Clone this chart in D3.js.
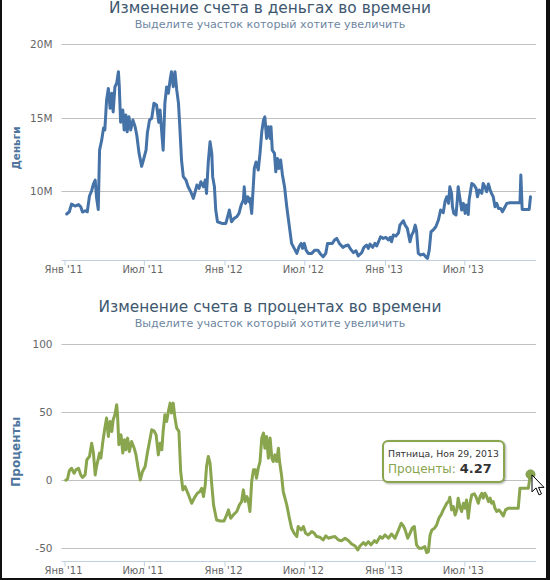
<!DOCTYPE html>
<html><head><meta charset="utf-8">
<script src="https://cdn.jsdelivr.net/npm/d3@7"></script>
<style>html,body{margin:0;padding:0;background:#fff;} svg{display:block;font-family:"DejaVu Sans",Verdana,sans-serif;}</style>
</head><body><svg id="c" width="550" height="580"></svg>
<script>
// ---------- DATA ----------
const startDate = new Date(2011, 0, 1); // day offsets below are counted from this date

const moneyDays = [5,11,16,24,32,37,41,47,52,57,62,66,70,73,77,80,85,89,92,96,100,104,108,111,115,119,123,125,128,133,136,140,143,147,151,156,161,165,170,176,180,186,189,194,199,204,210,215,218,222,225,229,233,237,241,244,248,252,256,260,263,267,271,277,282,288,294,298,
302,307,311,317,321,324,328,332,336,338,342,345,349,359,368,372,376,381,387,393,398,403,408,410,413,418,421,423,427,431,433,437,442,446,450,454,457,461,465,469,471,474,479,482,486,489,493,497,502,507,512,518,524,530,535,540,543,547,551,556,564,571,578,583,590,596,600,606,611,616,
621,627,635,640,647,653,659,665,670,678,683,689,693,697,703,708,712,718,721,727,733,739,743,746,750,756,762,765,773,777,782,788,792,796,800,803,807,812,819,825,828,832,836,841,847,853,858,864,868,872,876,879,883,885,888,893,896,898,902,906,910,914,917,921,923,929,934,939,942,946,952,955,959,963,967,971,974,978,982,986,990,995,999,1005,1009,1016,1039,1041,1044,1060,1063];
const moneyValues = [8.46,8.61,9.13,9.0,9.1,8.95,8.59,8.68,8.61,9.68,10.04,10.5,10.77,9.6,8.77,12.8,13.5,14.3,14.17,16.2,17.0,15.65,16.67,15.4,17.1,17.35,18.14,17.12,14.7,15.53,14.17,15.19,14.05,15.07,14.17,14.85,14.4,13.8,12.6,11.7,12.13,12.8,13.96,14.85,14.97,15.99,15.87,14.7,15.53,13.94,12.8,15.99,17.1,16.67,17.6,18.14,17.12,18.14,16.9,15.99,14.4,12.1,11.0,10.77,10.31,9.97,9.52,9.97,
10.43,10.2,10.65,10.31,10.77,9.86,12.0,13.37,12.58,11.0,10.31,8.73,7.93,7.82,7.82,8.27,8.73,7.93,8.16,8.27,8.5,9.07,9.41,10.31,9.18,9.63,9.29,9.52,8.5,10.54,11.56,12.0,11.45,12.58,14.05,14.85,15.07,13.6,14.4,13.6,14.4,12.8,12.58,11.33,12.24,11.56,12.13,11.15,10.3,8.95,7.82,6.46,6.12,5.78,6.23,6.46,6.12,6.46,6.0,5.78,5.78,6.0,6.0,5.78,5.55,5.78,6.46,6.46,6.46,6.69,
6.8,6.46,6.19,6.28,6.35,6.05,5.83,5.96,5.6,5.83,6.19,6.35,6.12,6.41,6.19,6.46,6.28,6.69,6.91,6.8,6.87,6.69,6.87,6.57,7.03,6.96,7.18,7.7,8.0,7.7,7.48,6.57,7.03,7.25,7.7,7.32,5.78,5.67,5.73,5.51,5.44,6.0,7.25,7.37,7.59,8.05,8.73,8.55,9.3,9.63,9.18,10.31,9.86,8.95,8.5,8.39,9.41,10.31,9.52,8.73,9.18,8.5,9.07,8.43,9.41,10.54,10.43,10.2,9.63,10.09,9.86,10.54,10.31,9.97,10.5,10.09,9.86,9.63,8.95,9.18,8.84,8.84,8.61,8.95,9.18,9.22,9.22,11.11,8.77,8.77,9.63];

const percentDays = [3,7,11,16,22,26,32,37,41,47,51,57,62,66,70,73,80,83,87,92,96,100,104,108,111,115,119,121,124,129,133,137,140,144,148,153,159,163,168,173,178,184,189,194,199,204,209,214,218,222,225,229,233,237,241,244,248,252,256,261,265,270,275,283,290,298,303,309,313,317,321,324,328,332,336,340,343,347,355,364,370,374,379,385,393,399,404,408,412,416,419,423,427,431,435,438,442,446,450,454,457,461,465,469,473,476,480,484,488,490,495,499,507,513,518,524,530,
533,540,545,550,556,564,570,575,583,590,596,602,609,617,625,632,640,648,655,663,669,674,682,687,693,699,707,712,720,725,731,739,746,754,762,768,773,777,783,788,793,798,803,809,815,822,826,830,834,838,844,849,854,859,864,868,872,876,879,883,887,891,895,898,902,906,910,914,917,921,925,929,935,940,944,948,952,955,959,963,967,971,974,978,982,986,991,996,1001,1006,1012,1035,1039,1058,1063];
const percentValues = [0,1,6.9,8.8,5.1,7.6,8.8,3.9,2.0,3.9,15,17.4,27.2,19.9,3.9,10,19.9,16.2,27.2,38.2,45.6,32.1,43.1,35.8,44.4,48,55.4,48,26,33.3,19.9,29.7,22.3,30.9,21.1,28.4,23.5,18.6,8.8,0.2,6.4,10,19.9,28.4,37,36.3,33.3,18.6,27.2,22.3,35.8,48,43.1,50.5,56.6,49.3,56.6,45.6,38.2,35.8,6.4,-7.1,-4.7,-10.8,-16.9,-12,-9.6,-8.3,-5.9,-12,-3.4,10,17.4,12.5,-3.4,-18.1,-23,-29.2,-29.9,-29.9,-25.5,-21.8,-27.9,-25.5,-23,-18.1,-15.7,-7.1,-15.7,-12,-14.5,-23,-1,7.6,7.6,1.5,8.8,13.7,30.9,34.6,23.5,32.1,16.2,30.9,16.2,13.7,18.6,13.7,23.5,15,3.9,-8.3,-18.1,-27.9,-35.3,-39,-41.4,
-34,-36.5,-34,-39,-40.2,-37.7,-39,-41.4,-41.9,-43.9,-40.9,-42.6,-41.9,-41.4,-43.9,-44.4,-42.6,-44.4,-46.8,-48.3,-51.2,-48.3,-45.8,-47.5,-45.1,-47.5,-44.4,-45.8,-41.4,-42.6,-40.2,-42.6,-39.5,-42.6,-36.5,-31.6,-33.6,-36.5,-42.6,-39,-35.3,-34,-47.5,-50,-50,-48.8,-53.2,-52.5,-40.2,-36.5,-35.3,-32.8,-27.9,-25.5,-21.8,-19.4,-16.9,-15.7,-12.5,-21.8,-19.4,-25.5,-21.8,-13.2,-19.4,-23,-16.9,-20.6,-14.5,-27.9,-16.9,-10.8,-10,-13.2,-16.9,-12,-9.6,-13.2,-9.6,-12,-15.7,-13.2,-16.9,-15.7,-20.6,-23,-21.8,-23.8,-26.2,-21.8,-20.6,-20.6,-5.9,-5.9,4.27];

const xTickDates  = ["2011-01-01","2011-07-01","2012-01-01","2012-07-01","2013-01-01","2013-07-01"];
const xTickLabels = ["Янв '11","Июл '11","Янв '12","Июл '12","Янв '13","Июл '13"];
const moneyTicks   = [10, 15, 20];
const percentTicks = [-50, 0, 50, 100];

const titles    = ["Изменение счета в деньгах во времени", "Изменение счета в процентах во времени"];
const subtitle  = "Выделите участок который хотите увеличить";
const axisTitles = ["Деньги", "Проценты"];
const tooltipDate = "Пятница, Ноя 29, 2013";
const tooltipName = "Проценты";

// ---------- DRAW ----------
const svg = d3.select("#c");
const parse = d3.timeParse("%Y-%m-%d");
const toDate = d => d3.timeDay.offset(startDate, d);
const endDate = toDate(1063);

const x = d3.scaleTime().domain([startDate, endDate]).range([64.5, 530.5]);
const plotL = 61.5, plotR = 536;

function fitText(sel, target) {
  const node = sel.node();
  const w = node.getComputedTextLength();
  const fs = parseFloat(sel.attr("font-size"));
  if (w > 0) sel.attr("font-size", (fs * target / w).toFixed(2));
  return sel;
}

const panels = [
  { title: titles[0], titleY: 12.5, subY: 27.8, top: 44.3, bottom: 260, domain: [5.33, 20],
    ticks: moneyTicks, fmt: d => d + "M", axisTitle: axisTitles[0], axisTitleY: 148, axisTitleW: 43,
    days: moneyDays, values: moneyValues, color: "#4572A7", titleW: 322 },
  { title: titles[1], titleY: 312.3, subY: 327.3, top: 344, bottom: 560.7, domain: [-59.1, 100],
    ticks: percentTicks, fmt: d => d, axisTitle: axisTitles[1], axisTitleY: 451.7, axisTitleW: 70,
    days: percentDays, values: percentValues, color: "#89A54E", titleW: 343 }
];

panels.forEach((p, pi) => {
  const g = svg.append("g");
  const y = d3.scaleLinear().domain(p.domain).range([p.bottom, p.top]);
  p.y = y;

  // titles
  fitText(g.append("text").attr("x", 270).attr("y", p.titleY).attr("text-anchor", "middle")
    .attr("font-size", 16).attr("fill", "#3E576F").text(p.title), p.titleW);
  fitText(g.append("text").attr("x", 270).attr("y", p.subY).attr("text-anchor", "middle")
    .attr("font-size", 11).attr("fill", "#6D869F").text(subtitle), 271);

  // grid lines
  g.selectAll(".grid").data(p.ticks).join("line")
    .attr("x1", plotL).attr("x2", plotR)
    .attr("y1", d => Math.round(y(d)) + 0.5).attr("y2", d => Math.round(y(d)) + 0.5)
    .attr("stroke", "#C0C0C0").attr("stroke-width", 1);

  // y labels
  g.selectAll(".yl").data(p.ticks).join("text")
    .attr("x", 52.5).attr("y", d => y(d)).attr("dy", "0.36em")
    .attr("text-anchor", "end").attr("font-size", 10.5).attr("fill", "#666")
    .text(p.fmt);

  // y axis title
  const at = g.append("text").attr("transform", `translate(19.5,${p.axisTitleY}) rotate(-90)`)
    .attr("text-anchor", "middle").attr("font-size", 12).attr("font-weight", "bold")
    .attr("fill", "#4D759E").text(p.axisTitle);
  fitText(at, p.axisTitleW);

  // x axis
  const xAxis = d3.axisBottom(x)
    .tickValues(xTickDates.map(parse))
    .tickFormat((d, i) => xTickLabels[i])
    .tickSize(5).tickSizeOuter(0);
  const ax = g.append("g").attr("transform", `translate(0,${Math.round(p.bottom) + 0.5})`).call(xAxis);
  ax.select(".domain").attr("d", `M${plotL},0H${plotR}`).attr("stroke", "#C0D0E0");
  ax.selectAll(".tick line").attr("stroke", "#C0D0E0");
  ax.selectAll(".tick text").attr("font-size", 10).attr("fill", "#666")
    .attr("font-family", "DejaVu Sans, Verdana, sans-serif")
    .attr("y", 12.5).attr("dy", 0).attr("x", -1.5);

  // series line
  const pts = p.days.map((d, i) => [toDate(d), p.values[i]]);
  const line = d3.line().x(d => x(d[0])).y(d => y(d[1]));
  g.append("path").datum(pts).attr("d", line)
    .attr("fill", "none").attr("stroke", p.color).attr("stroke-width", 3)
    .attr("stroke-linejoin", "round").attr("stroke-linecap", "round");
});

// ---------- tooltip on last point of percent series ----------
const pp = panels[1];
const lastI = percentDays.length - 1;
const px = x(toDate(percentDays[lastI])), py = pp.y(percentValues[lastI]);
const tip = svg.append("g").attr("transform", `translate(${px - 147.5},${py - 33.5})`);
const tw = 121, th = 41;
for (let i = 1; i <= 3; i++) {
  tip.append("rect").attr("x", 1).attr("y", 1).attr("width", tw).attr("height", th).attr("rx", 5)
    .attr("fill", "none").attr("stroke", "#000").attr("stroke-opacity", 0.05 * i).attr("stroke-width", 7 - 2 * i);
}
tip.append("rect").attr("width", tw).attr("height", th).attr("rx", 5)
  .attr("fill", "rgba(255,255,255,0.9)").attr("stroke", "#89A54E").attr("stroke-width", 2);
fitText(tip.append("text").attr("x", 5).attr("y", 15.7).attr("font-size", 10).attr("fill", "#333").text(tooltipDate), 111);
const t2 = tip.append("text").attr("x", 5).attr("y", 31.7).attr("font-size", 12);
t2.append("tspan").attr("fill", "#89A54E").text(tooltipName + ": ");
t2.append("tspan").attr("fill", "#333").attr("font-weight", "bold").attr("font-size", 13).text(percentValues[lastI]);

// hover marker
svg.append("circle").attr("cx", px).attr("cy", py).attr("r", 4.5)
  .attr("fill", "#89A54E").attr("stroke", "#7c9646").attr("stroke-width", 1);

// mouse cursor
svg.append("path").attr("transform", `translate(${px + 1.5},${py + 0.5})`)
  .attr("d", "M0,0 L0,17 L4,13 L7,20 L9.5,19 L6.5,12.5 L12,12.5 Z")
  .attr("fill", "#fff").attr("stroke", "#000").attr("stroke-width", 1).attr("stroke-linejoin", "miter");

// screenshot frame edges
svg.append("rect").attr("x", 0).attr("y", 0).attr("width", 2).attr("height", 580).attr("fill", "#111");
svg.append("rect").attr("x", 546).attr("y", 0).attr("width", 4).attr("height", 580).attr("fill", "#111");
svg.append("rect").attr("x", 0).attr("y", 578).attr("width", 550).attr("height", 2).attr("fill", "#111");
</script></body></html>
